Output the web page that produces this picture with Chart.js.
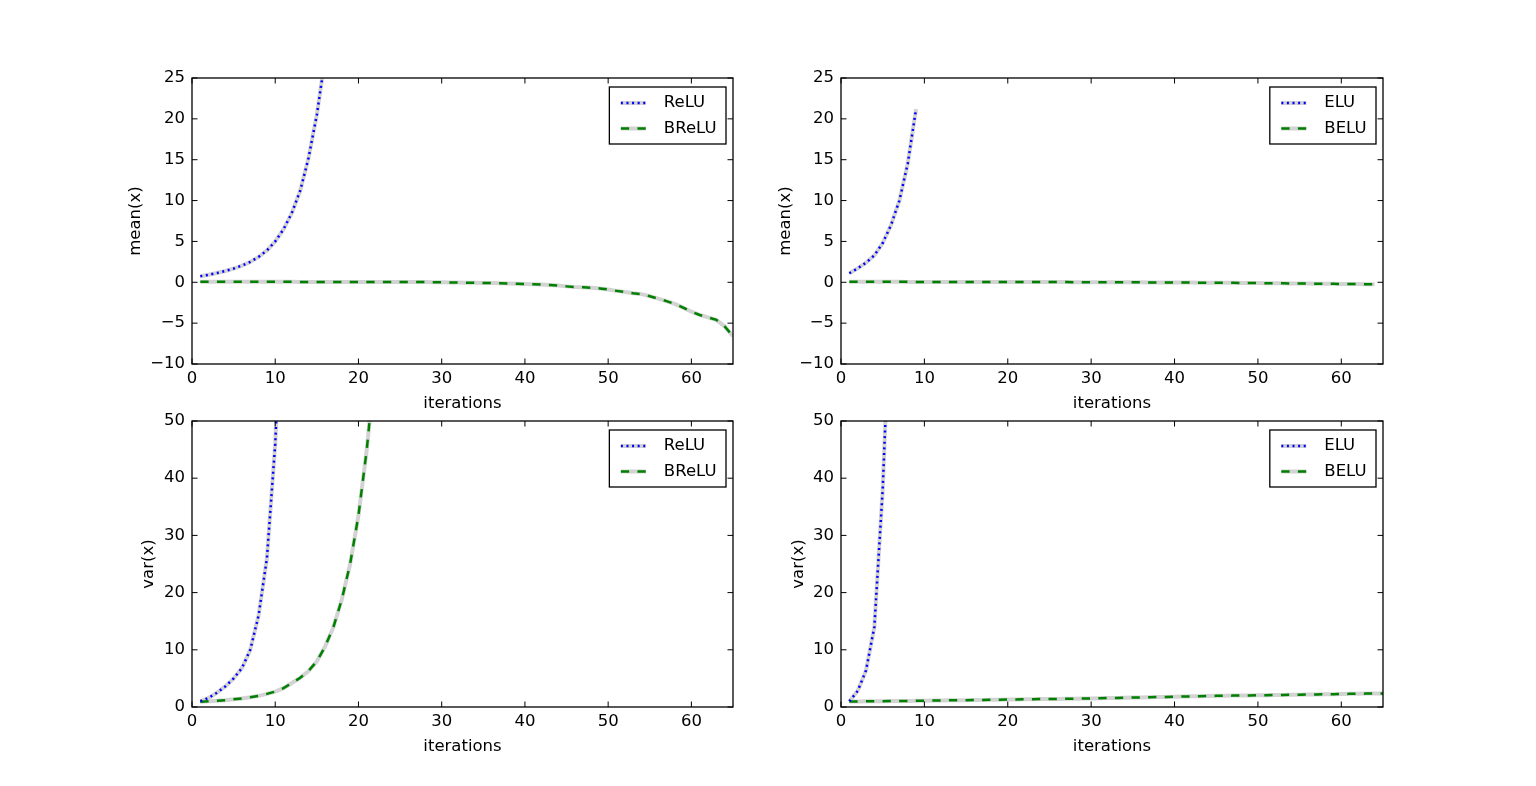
<!DOCTYPE html>
<html><head><meta charset="utf-8">
<script src="https://cdn.jsdelivr.net/npm/chart.js@4.4.1/dist/chart.umd.min.js"></script>
<style>
html,body{margin:0;padding:0;background:#fff;width:1536px;height:786px;overflow:hidden}
canvas{position:absolute}
</style></head><body>
<canvas id="c1"></canvas><canvas id="c2"></canvas><canvas id="c3"></canvas><canvas id="c4"></canvas>
<script>
// ---------- data ----------
const iterations = [1,2,3,4,5,6,7,8,9,10,11,12,13,14,15,16,17,18,19,20,21,22,23,24,25,26,27,28,29,30,31,32,33,34,35,36,37,38,39,40,41,42,43,44,45,46,47,48,49,50,51,52,53,54,55,56,57,58,59,60,61,62,63,64,65];

const reluMean  = [0.74,0.92,1.13,1.38,1.68,2.05,2.5,3.1,3.9,5.0,6.5,8.5,11.2,15.2,20.5,27.5];
const breluMean = [0.06,0.06,0.06,0.06,0.06,0.06,0.06,0.06,0.06,0.06,
                   0.06,0.06,0.05,0.05,0.05,0.05,0.05,0.05,0.05,0.05,
                   0.04,0.04,0.04,0.04,0.03,0.03,0.02,0.02,0.01,0.0,
                   -0.02,-0.03,-0.05,-0.06,-0.08,-0.1,-0.12,-0.15,-0.18,-0.2,
                   -0.24,-0.28,-0.33,-0.4,-0.5,-0.58,-0.62,-0.68,-0.75,-0.88,
                   -1.05,-1.2,-1.35,-1.45,-1.7,-2.0,-2.3,-2.65,-3.1,-3.6,
                   -4.0,-4.3,-4.6,-5.4,-6.6];
const eluMean   = [1.1,1.7,2.4,3.3,4.8,7.0,10.0,14.5,21.2];
const beluMean  = [0.06,0.06,0.06,0.06,0.06,0.06,0.06,0.05,0.05,0.05,
                   0.05,0.05,0.05,0.05,0.04,0.04,0.04,0.04,0.04,0.03,
                   0.03,0.03,0.03,0.02,0.02,0.02,0.02,0.01,0.01,0.01,
                   0.0,0.0,0.0,-0.01,-0.01,-0.01,-0.02,-0.02,-0.03,-0.03,
                   -0.04,-0.04,-0.05,-0.05,-0.06,-0.07,-0.07,-0.08,-0.09,-0.1,
                   -0.11,-0.12,-0.13,-0.14,-0.15,-0.16,-0.17,-0.18,-0.19,-0.2,
                   -0.21,-0.22,-0.23,-0.25];
const reluVar   = [1.0,1.6,2.5,3.6,5.0,6.8,10.0,16.0,26.0,46.0,80.0];
const breluVar  = [0.9,1.0,1.1,1.2,1.35,1.5,1.7,1.95,2.3,2.7,3.3,4.2,5.1,6.3,8.0,10.6,14.0,18.8,25.0,33.5,45.0,60.0];
const eluVar    = [1.0,2.8,6.4,14.0,38.0,75.0];
const beluVar   = [0.95,0.97,0.99,1.0,1.02,1.03,1.05,1.06,1.08,1.1,
                   1.12,1.14,1.16,1.18,1.2,1.22,1.24,1.26,1.28,1.3,
                   1.32,1.34,1.36,1.38,1.4,1.42,1.44,1.46,1.48,1.5,
                   1.53,1.56,1.59,1.62,1.65,1.68,1.71,1.74,1.77,1.8,
                   1.83,1.86,1.89,1.92,1.95,1.97,1.99,2.01,2.03,2.05,
                   2.07,2.09,2.11,2.14,2.16,2.18,2.2,2.22,2.25,2.28,
                   2.3,2.32,2.34,2.36,2.38];

const xTicks    = [0,10,20,30,40,50,60];
const meanTicks = [-10,-5,0,5,10,15,20,25];
const varTicks  = [0,10,20,30,40,50];

// ---------- style ----------
const FONT = 'DejaVu Sans';
const FS = 16.5;
Chart.defaults.font.family = FONT;
Chart.defaults.font.size = FS;
Chart.defaults.color = '#000';

const DOT = [2, 3.6];
const DASH = [8.3, 8.3];
const SHADOW = '#d3d3d3';

const frameTicks = {
  id: 'frameTicks',
  afterDatasetsDraw(chart) {
    const {ctx, chartArea: a, scales: {x, y}} = chart;
    const L = 5.5;
    ctx.save();
    ctx.strokeStyle = '#000';
    ctx.lineWidth = 1;
    ctx.setLineDash([]);
    ctx.beginPath();
    x.ticks.forEach(t => {
      const px = x.getPixelForValue(t.value);
      ctx.moveTo(px, a.bottom); ctx.lineTo(px, a.bottom - L);
      ctx.moveTo(px, a.top); ctx.lineTo(px, a.top + L);
    });
    y.ticks.forEach(t => {
      const py = y.getPixelForValue(t.value);
      ctx.moveTo(a.left, py); ctx.lineTo(a.left + L, py);
      ctx.moveTo(a.right, py); ctx.lineTo(a.right - L, py);
    });
    ctx.stroke();
    ctx.lineWidth = 1.3;
    ctx.strokeRect(a.left, a.top, a.right - a.left, a.bottom - a.top);
    ctx.restore();
  }
};

const boxLegend = {
  id: 'boxLegend',
  afterDraw(chart) {
    const {ctx, chartArea: a} = chart;
    const items = chart.data.datasets.filter(d => !d.shadow);
    ctx.save();
    ctx.font = FS + 'px "' + FONT + '"';
    const tw = Math.max(...items.map(d => ctx.measureText(d.label).width));
    const w = 11.5 + 25 + 18 + tw + 9.5;
    const h = 57;
    const x0 = a.right - 7 - w, y0 = a.top + 9;
    ctx.fillStyle = '#fff';
    ctx.fillRect(x0, y0, w, h);
    ctx.lineWidth = 1.3;
    ctx.strokeStyle = '#000';
    ctx.setLineDash([]);
    ctx.strokeRect(x0, y0, w, h);
    items.forEach((d, i) => {
      const yy = y0 + 16 + i * 25.5;
      ctx.lineCap = 'butt';
      ctx.setLineDash([]);
      ctx.strokeStyle = SHADOW; ctx.lineWidth = 4;
      ctx.beginPath(); ctx.moveTo(x0 + 11.5, yy); ctx.lineTo(x0 + 36.5, yy); ctx.stroke();
      ctx.setLineDash(d.borderDash);
      ctx.strokeStyle = d.borderColor; ctx.lineWidth = d.borderWidth;
      ctx.beginPath(); ctx.moveTo(x0 + 11.5, yy); ctx.lineTo(x0 + 36.5, yy); ctx.stroke();
      ctx.setLineDash([]);
      ctx.fillStyle = '#000';
      ctx.textBaseline = 'middle';
      ctx.textAlign = 'left';
      ctx.fillText(d.label, x0 + 54.5, yy);
    });
    ctx.restore();
  }
};

const minus = v => String(v).replace('-', '\u2212');
const zeroPad = s => { s.paddingTop = 0; s.paddingBottom = 0; s.paddingLeft = 0; s.paddingRight = 0; };

function makeChart(id, left, right, top, bottom, yTitle, yTitlePad, yMin, yMax, yTicks, series) {
  const LW = 90, TP = 12, RP = 12, BH = 60;
  const cv = document.getElementById(id);
  const W = LW + (right - left) + RP, H = TP + (bottom - top) + BH;
  cv.width = W; cv.height = H;
  cv.style.width = W + 'px'; cv.style.height = H + 'px';
  cv.style.left = (left - LW) + 'px'; cv.style.top = (top - TP) + 'px';
  const datasets = [];
  series.forEach(s => {
    const pts = s.values.map((v, i) => ({x: iterations[i], y: v}));
    datasets.push({label: s.label + ' shadow', shadow: true, data: pts, borderColor: SHADOW,
      borderWidth: 4, pointRadius: 0, tension: 0, order: 2, clip: 0, borderCapStyle: 'butt'});
    datasets.push({label: s.label, data: pts, borderColor: s.color, borderWidth: 2.5,
      borderDash: s.dash, pointRadius: 0, tension: 0, order: 1, clip: 0, borderCapStyle: 'butt'});
  });
  return new Chart(cv, {
    type: 'line',
    data: {datasets},
    plugins: [frameTicks, boxLegend],
    options: {
      responsive: false,
      animation: false,
      events: [],
      layout: {padding: {top: TP, right: RP, left: 0, bottom: 0}, autoPadding: false},
      plugins: {legend: {display: false}, tooltip: {enabled: false}},
      scales: {
        x: {
          type: 'linear', min: 0, max: 65,
          grid: {display: false, drawTicks: false}, border: {display: false},
          ticks: {padding: 5, includeBounds: false, callback: v => minus(v), maxRotation: 0, autoSkip: false},
          afterBuildTicks: s => { s.ticks = xTicks.map(v => ({value: v})); },
          afterFit: s => { s.height = BH; zeroPad(s); },
          title: {display: true, text: 'iterations', padding: {top: 0, bottom: 10}}
        },
        y: {
          type: 'linear', min: yMin, max: yMax,
          grid: {display: false, drawTicks: false}, border: {display: false},
          ticks: {padding: 7, includeBounds: false, callback: v => minus(v), autoSkip: false},
          afterBuildTicks: s => { s.ticks = yTicks.map(v => ({value: v})); },
          afterFit: s => { s.width = LW; zeroPad(s); },
          title: {display: true, text: yTitle, padding: {top: yTitlePad, bottom: 0}}
        }
      }
    }
  });
}

makeChart('c1', 192, 733, 78, 364, 'mean(x)', 24, -10, 25, meanTicks, [
  {label: 'ReLU', values: reluMean, color: '#0000ff', dash: DOT},
  {label: 'BReLU', values: breluMean, color: '#008000', dash: DASH}
]);
makeChart('c2', 841, 1383, 78, 364, 'mean(x)', 25, -10, 25, meanTicks, [
  {label: 'ELU', values: eluMean, color: '#0000ff', dash: DOT},
  {label: 'BELU', values: beluMean, color: '#008000', dash: DASH}
]);
makeChart('c3', 192, 733, 421, 707, 'var(x)', 37, 0, 50, varTicks, [
  {label: 'ReLU', values: reluVar, color: '#0000ff', dash: DOT},
  {label: 'BReLU', values: breluVar, color: '#008000', dash: DASH}
]);
makeChart('c4', 841, 1383, 421, 707, 'var(x)', 38, 0, 50, varTicks, [
  {label: 'ELU', values: eluVar, color: '#0000ff', dash: DOT},
  {label: 'BELU', values: beluVar, color: '#008000', dash: DASH}
]);
</script>
</body></html>
